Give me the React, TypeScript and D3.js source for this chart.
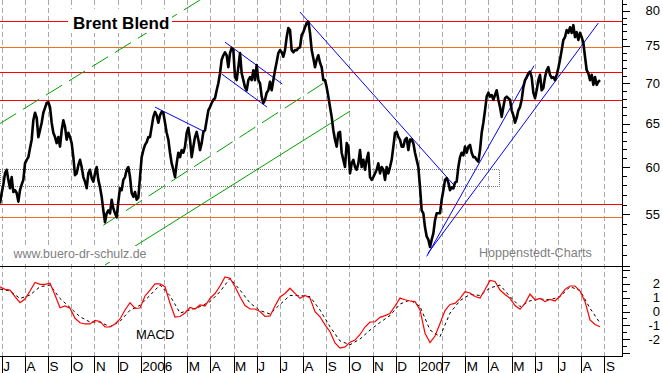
import * as d3 from 'd3';

// Brent price, sampled every ~2 trading days (month index 0 = July 2005)
const PRICE_START = -0.073;
const PRICE_STEP = 0.0719;
const prices = [
  56.1, 57.2, 58.1, 59.3, 59.7, 58.6, 57.7, 58.9, 57.3, 57.5,
  57.2, 56.3, 57.5, 58.1, 58.6, 60.4, 60.8, 61.1, 62.1, 63.1,
  65.4, 66.3, 65.7, 63.4, 64.2, 65.1, 66.3, 66.9, 67.5, 67.6,
  67.0, 65.1, 63.9, 63.4, 62.7, 63.4, 62.3, 64.2, 65.4, 64.6,
  63.1, 63.9, 63.4, 62.7, 61.1, 59.1, 59.3, 60.2, 60.8, 60.0,
  58.9, 58.4, 57.7, 59.3, 59.7, 58.8, 58.4, 59.3, 60.0, 58.6,
  57.8, 56.8, 55.4, 54.2, 55.1, 55.4, 55.1, 56.5, 55.6, 55.1,
  54.7, 56.3, 57.7, 57.5, 58.6, 58.9, 59.7, 60.0, 58.9, 57.2,
  56.8, 57.3, 56.5, 56.7, 58.9, 61.1, 61.9, 62.5, 62.8, 63.4,
  63.4, 64.6, 65.8, 66.4, 66.0, 65.1, 66.0, 66.4, 66.3, 65.1,
  63.9, 63.1, 61.6, 60.4, 59.7, 58.9, 60.4, 61.6, 61.1, 61.9,
  61.6, 62.3, 63.9, 64.5, 63.1, 61.1, 62.3, 63.4, 64.0, 63.1,
  61.9, 62.7, 64.0, 64.2, 65.4, 66.6, 67.0, 67.5, 67.9, 68.1,
  69.1, 70.0, 71.3, 73.1, 73.7, 74.1, 73.7, 72.1, 74.0, 74.7,
  74.4, 70.8, 70.4, 72.1, 74.0, 71.3, 70.4, 69.5, 69.1, 70.4,
  70.8, 70.4, 71.7, 70.4, 72.4, 70.4, 70.0, 68.3, 67.5, 67.9,
  68.8, 69.1, 70.2, 69.1, 70.4, 71.7, 72.8, 74.0, 74.4, 74.1,
  73.5, 74.4, 76.2, 77.5, 77.2, 74.4, 74.1, 74.4, 74.4, 74.7,
  74.8, 76.5, 76.9, 77.6, 78.2, 78.4, 76.8, 74.4, 73.3, 72.1,
  73.1, 73.7, 72.7, 72.1, 70.4, 70.4, 69.5, 68.3, 67.0, 65.8,
  64.2, 63.1, 62.3, 63.9, 64.0, 61.6, 60.8, 60.0, 62.7, 62.3,
  59.3, 60.4, 60.8, 60.0, 59.7, 60.4, 61.9, 60.0, 60.8, 59.7,
  60.8, 61.6, 58.9, 58.6, 58.9, 59.3, 59.7, 60.4, 59.3, 60.0,
  59.7, 58.6, 60.0, 59.3, 60.0, 60.8, 62.3, 63.9, 64.0, 63.4,
  63.1, 62.3, 62.3, 63.1, 63.3, 61.9, 63.1, 63.1, 62.7, 61.6,
  60.8, 60.0, 57.8, 55.4, 55.1, 53.7, 52.8, 52.5, 51.8, 52.5,
  53.1, 54.4, 55.1, 55.1, 55.1, 56.5, 57.5, 58.6, 58.8, 58.3,
  57.5, 57.8, 57.7, 58.3, 58.4, 60.0, 61.1, 61.6, 61.3, 62.3,
  61.6, 62.3, 62.5, 61.6, 61.1, 61.1, 60.8, 60.6, 61.9, 63.9,
  65.1, 66.6, 68.3, 68.8, 68.3, 68.5, 67.9, 68.5, 69.1, 67.9,
  67.0, 65.8, 67.0, 68.1, 68.3, 68.1, 67.9, 66.6, 66.0, 65.1,
  65.7, 66.6, 67.0, 67.9, 69.5, 70.4, 70.8, 71.3, 71.5, 70.8,
  68.8, 68.1, 69.1, 70.4, 71.1, 69.1, 69.4, 70.8, 71.7, 72.1,
  71.1, 70.7, 70.8, 70.4, 71.1, 72.0, 73.1, 74.4, 75.8, 76.2,
  77.2, 76.8, 77.6, 76.8, 77.9, 76.2, 76.9, 75.8, 76.8, 76.2,
  75.4, 73.5, 71.7, 71.3, 70.4, 71.1, 69.8, 70.8, 69.8, 70.2, 70.4,
];

// MACD and its signal line
const MACD_STEP = 0.2157;
const macd = [
  1.79, 1.6, 1.55, 1.07, 0.64, 0.9, 1.48, 2.09, 1.96, 1.96,
  2.04, 1.19, 0.27, 0.4, 0.23, -0.49, -0.81, -0.9, -0.9, -0.65,
  -0.72, -1.12, -1.12, -0.9, -0.54, 0.11, 0.64, 0.23, 0.25, 1.12,
  1.55, 1.99, 1.99, 1.79, 0.59, -0.4, -0.36, -0.11, 0.29, 0.18,
  0.47, 0.4, 0.95, 1.3, 1.84, 2.49, 2.4, 1.79, 1.07, 0.43,
  0.18, 0.18, 0, -0.36, -0.32, 0.4, 1.05, 1.3, 1.68, 1.31,
  0.95, 1.16, 0.97, -0.01, -0.38, -0.97, -1.46, -2.27, -2.64, -2.56,
  -2.22, -2.06, -1.66, -1.12, -0.76, -0.74, -0.42, -0.3, -0.14, 0.4,
  0.97, 0.85, 0.76, 0.71, 0.11, -1.57, -2.25, -1.77, -0.87, 0.07,
  0.51, 0.59, 0.95, 1.43, 1.34, 1.08, 0.97, 1.59, 2.25, 2.17,
  1.55, 1.23, 0.95, 0.43, 0.16, 0.59, 1.26, 0.85, 0.95, 0.71,
  0.88, 0.76, 1.12, 1.6, 1.84, 1.84, 1.48, 0.71, -0.61, -0.94,
  -1.1,
];
const SIGNAL_STEP = 0.4314;
const signal = [
  1.62, 1.48, 0.94, 1.19, 1.79, 1.91, 0.94, 0.29, -0.38, -0.76,
  -0.76, -1.1, -0.71, 0.09, 0.45, 1.17, 1.91, 1.14, -0.11, 0.11,
  0.35, 0.71, 1.43, 2.4, 1.55, 0.61, 0.07, -0.18, 0.51, 1.16,
  1.15, 1.07, 0.11, -1.1, -2.13, -2.4, -1.99, -1.34, -0.79, -0.29,
  0.54, 0.83, 0.36, -1.34, -1.82, -0.11, 0.79, 1.23, 1.16, 1.7,
  1.91, 1.07, 0.35, 0.77, 0.9, 0.85, 1.07, 1.79, 1.52, 0.23,
  -0.83,
];

const monthLabels = [
  'J', 'A', 'S', 'O', 'N', 'D', '2006', '', 'M', 'A', 'M', 'J', 'J',
  'A', 'S', 'O', 'N', 'D', '2007', '', 'M', 'A', 'M', 'J', 'J', 'A', 'S',
];

const priceLabels = [55, 60, 65, 70, 75, 80];
const macdLabels = [2, 1, 0, -1, -2];

// horizontal support / resistance levels
const redLevels = [78.5, 71.5, 67.9, 56.1];
const orangeLevels = [74.8, 54.7];
const boxRange = { from: -0.073, to: 21.467, low: 58.0, high: 59.8 };

// trend lines: [month1, value1, month2, value2]
const greenDashed = [
  [-0.073, 65.0, 8.555, 81.6],
  [4.383, 53.9, 13.874, 70.0],
];
const greenSolid = [[4.456, 50.1, 15.026, 66.5]];
const blueLines = [
  [6.613, 67.0, 8.77, 64.0],
  [9.633, 75.5, 12.105, 69.9],
  [9.491, 71.2, 11.445, 67.0],
  [12.869, 79.8, 19.556, 57.9],
  [18.335, 50.9, 22.964, 72.3],
  [18.391, 51.2, 25.738, 78.2],
];

const W = 663;
const H = 373;
const AXIS_X = 622.5;
const SEP_Y = 266.5;
const BOTTOM_Y = 356.5;
const FONT = '"Liberation Sans", Arial, sans-serif';

const App = () => {
  const x = d3.scaleLinear().domain([0, 26]).range([1.7, 604.4]);
  const yPrice = d3.scaleLog().domain([50, 80]).range([266.1, 10.7]);
  const yMacd = d3.scaleLinear().domain([-2, 2]).range([339.2, 283.8]);

  const priceLine = d3
    .line<number>()
    .x((_, i) => x(PRICE_START + i * PRICE_STEP))
    .y((d) => yPrice(d));
  const macdLine = d3
    .line<number>()
    .x((_, i) => x(PRICE_START + i * MACD_STEP))
    .y((d) => yMacd(d));
  const signalLine = d3
    .line<number>()
    .x((_, i) => x(PRICE_START + i * SIGNAL_STEP))
    .y((d) => yMacd(d));

  const crisp = (v: number) => Math.round(v) + 0.5;
  const months = d3.range(monthLabels.length);
  const priceTicks = d3.range(50, 82);
  const macdTicks = d3.range(-3, 3.01, 0.5);

  const seg = (l: number[], key: string, color: string, dash?: string) => (
    <line
      key={key}
      x1={x(l[0])}
      y1={yPrice(l[1])}
      x2={x(l[2])}
      y2={yPrice(l[3])}
      stroke={color}
      strokeWidth={1}
      strokeDasharray={dash}
    />
  );

  return (
    <svg
      width={W}
      height={H}
      style={{ position: 'absolute', left: 0, top: 0, background: '#fff' }}
      fontFamily={FONT}
    >
      <defs>
        <clipPath id='main'>
          <rect x={0} y={0} width={AXIS_X} height={SEP_Y} />
        </clipPath>
        <clipPath id='lower'>
          <rect x={0} y={SEP_Y} width={AXIS_X} height={BOTTOM_Y - SEP_Y} />
        </clipPath>
      </defs>

      {/* month grid */}
      {months.map((m) => (
        <line
          key={'g' + m}
          x1={crisp(x(m))}
          x2={crisp(x(m))}
          y1={0}
          y2={BOTTOM_Y}
          stroke='#a8a8a8'
          strokeDasharray='5 3'
        />
      ))}

      <g clipPath='url(#main)' shapeRendering='crispEdges'>
        {redLevels.map((v) => (
          <line key={'r' + v} x1={0} x2={AXIS_X} y1={crisp(yPrice(v))} y2={crisp(yPrice(v))} stroke='#ff0000' />
        ))}
        {orangeLevels.map((v) => (
          <line key={'o' + v} x1={0} x2={AXIS_X} y1={crisp(yPrice(v))} y2={crisp(yPrice(v))} stroke='#f07020' />
        ))}
        <rect
          x={x(boxRange.from)}
          y={crisp(yPrice(boxRange.high))}
          width={x(boxRange.to) - x(boxRange.from)}
          height={Math.round(yPrice(boxRange.low) - yPrice(boxRange.high))}
          fill='none'
          stroke='#777'
          strokeDasharray='1 1'
        />
      </g>

      <g clipPath='url(#main)'>
        {greenDashed.map((l, i) => seg(l, 'gd' + i, '#00a000', '19 8'))}
        {greenSolid.map((l, i) => seg(l, 'gs' + i, '#00a000'))}
        {blueLines.map((l, i) => seg(l, 'b' + i, '#0000ff'))}
      </g>

      {/* text boxes */}
      <rect x={68} y={9} width={104} height={24} fill='#fff' />
      <text x={73} y={28.5} fontSize={17} fontWeight='bold' fill='#000'>
        Brent Blend
      </text>
      <rect x={12} y={246} width={137} height={16} fill='#fff' />
      <text x={13.5} y={257.5} fontSize={12.4} fill='#808080'>
        www.buero-dr-schulz.de
      </text>
      <text x={479} y={256.7} fontSize={12.6} fill='#808080'>
        Hoppenstedt-Charts
      </text>

      <g clipPath='url(#main)'>
        <path
          d={priceLine(prices) || ''}
          fill='none'
          stroke='#000'
          strokeWidth={2.6}
          strokeLinejoin='round'
        />
      </g>

      {/* MACD panel */}
      <g clipPath='url(#lower)'>
        <path d={signalLine(signal) || ''} fill='none' stroke='#000' strokeWidth={1} strokeDasharray='3 3' />
        <path d={macdLine(macd) || ''} fill='none' stroke='#ff0000' strokeWidth={1.2} />
      </g>
      <text x={136} y={339} fontSize={13} fill='#000'>
        MACD
      </text>

      {/* frame */}
      <g shapeRendering='crispEdges' stroke='#000'>
        <line x1={0} x2={AXIS_X} y1={SEP_Y} y2={SEP_Y} />
        <line x1={0} x2={AXIS_X} y1={BOTTOM_Y} y2={BOTTOM_Y} />
        <line x1={AXIS_X} x2={AXIS_X} y1={0} y2={BOTTOM_Y} />
        {priceTicks.map((t) => (
          <line
            key={'pt' + t}
            x1={AXIS_X}
            x2={AXIS_X + (t % 5 === 0 ? 7 : 4)}
            y1={crisp(yPrice(t))}
            y2={crisp(yPrice(t))}
          />
        ))}
        {macdTicks.map((t) => (
          <line
            key={'mt' + t}
            x1={AXIS_X}
            x2={AXIS_X + (Math.abs(t % 1) < 0.01 ? 7 : 4)}
            y1={crisp(yMacd(t))}
            y2={crisp(yMacd(t))}
          />
        ))}
        {months.map((m) => (
          <line key={'mk' + m} x1={crisp(x(m))} x2={crisp(x(m))} y1={BOTTOM_Y} y2={H} />
        ))}
      </g>

      {priceLabels.map((v) => (
        <text key={'pl' + v} x={660} y={yPrice(v)} dy='0.36em' fontSize={13} textAnchor='end' fill='#000'>
          {v}
        </text>
      ))}
      {macdLabels.map((v) => (
        <text key={'ml' + v} x={660} y={yMacd(v)} dy='0.36em' fontSize={13} textAnchor='end' fill='#000'>
          {v < 0 ? '-' + Math.abs(v) : v}
        </text>
      ))}
      {monthLabels.map((lab, m) =>
        lab ? (
          <text key={'ml' + m} x={x(m) + 1.5} y={370.5} fontSize={13.5} fill='#000'>
            {lab}
          </text>
        ) : null
      )}
    </svg>
  );
};

export default App;
